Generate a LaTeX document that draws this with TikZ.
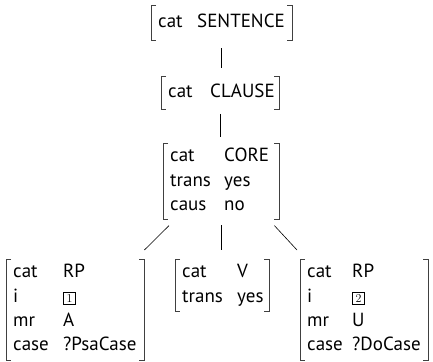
\documentclass[tikz,border=0pt]{standalone}
\usepackage{fontspec}
\setsansfont{PT Sans}
\usetikzlibrary{calc}
\newcommand{\tagbox}[1]{{\setlength{\fboxsep}{1.8pt}\setlength{\fboxrule}{0.5pt}\fbox{\makebox[8pt]{\rmfamily\fontsize{12}{12}\selectfont #1}}}}
\newcommand{\avmbrackets}[1]{%
  \draw[avmbr] ([xshift=5pt]#1.north west) -- (#1.north west) -- (#1.south west) -- ([xshift=5pt]#1.south west);
  \draw[avmbr] ([xshift=-5pt]#1.north east) -- (#1.north east) -- (#1.south east) -- ([xshift=-5pt]#1.south east);}
\begin{document}
\begin{tikzpicture}[x=1pt,y=-1pt,
  avm/.style={font=\sffamily\fontsize{19}{24.4}\selectfont, inner xsep=7pt, inner ysep=1.5pt, anchor=north west},
  avmbr/.style={line width=0.7pt, black!75},
  edge/.style={line width=0.6pt, black}]
\useasboundingbox (0,0) rectangle (433,361);
\node[avm, minimum height=35pt] (S) at (151,5) {\begin{tabular}{@{}p{39pt}@{}p{88pt}@{}}cat & SENTENCE\end{tabular}};
\node[avm, minimum height=32pt] (C) at (161,76.5) {\begin{tabular}{@{}p{42pt}@{}p{62pt}@{}}cat & CLAUSE\end{tabular}};
\node[avm] (K) at (163,143) {\begin{tabular}{@{}p{54pt}@{}p{48pt}@{}}cat & CORE\\ trans & yes\\ caus & no\end{tabular}};
\node[avm] (L) at (6,259) {\begin{tabular}{@{}p{50pt}@{}p{74pt}@{}}cat & RP\\ i & \tagbox{1}\\ mr & A\\ case & ?PsaCase\end{tabular}};
\node[avm] (M) at (175,259) {\begin{tabular}{@{}p{55pt}@{}p{25pt}@{}}cat & V\\ trans & yes\end{tabular}};
\node[avm] (R) at (300,259) {\begin{tabular}{@{}p{45pt}@{}p{69pt}@{}}cat & RP\\ i & \tagbox{2}\\ mr & U\\ case & ?DoCase\end{tabular}};
\foreach \n in {S,C,K,L,M,R} {\avmbrackets{\n}}
\draw[edge, shorten <=8pt, shorten >=8.5pt] (S.south) -- (S.south |- C.north);
\draw[edge, shorten <=5pt, shorten >=6pt] (C.south) -- (C.south |- K.north);
\draw[edge, shorten <=5.5pt, shorten >=9pt] (K.south) -- (K.south |- M.north);
\coordinate (ka) at ($(K.south west)+(6,6)$);
\coordinate (la) at ($(L.north east)+(0,-9)$);
\coordinate (kb) at ($(K.south east)+(-5,6)$);
\coordinate (ra) at ($(R.north west)+(-3,-9)$);
\draw[edge] (ka) -- (la);
\draw[edge] (kb) -- (ra);
\end{tikzpicture}
\end{document}
